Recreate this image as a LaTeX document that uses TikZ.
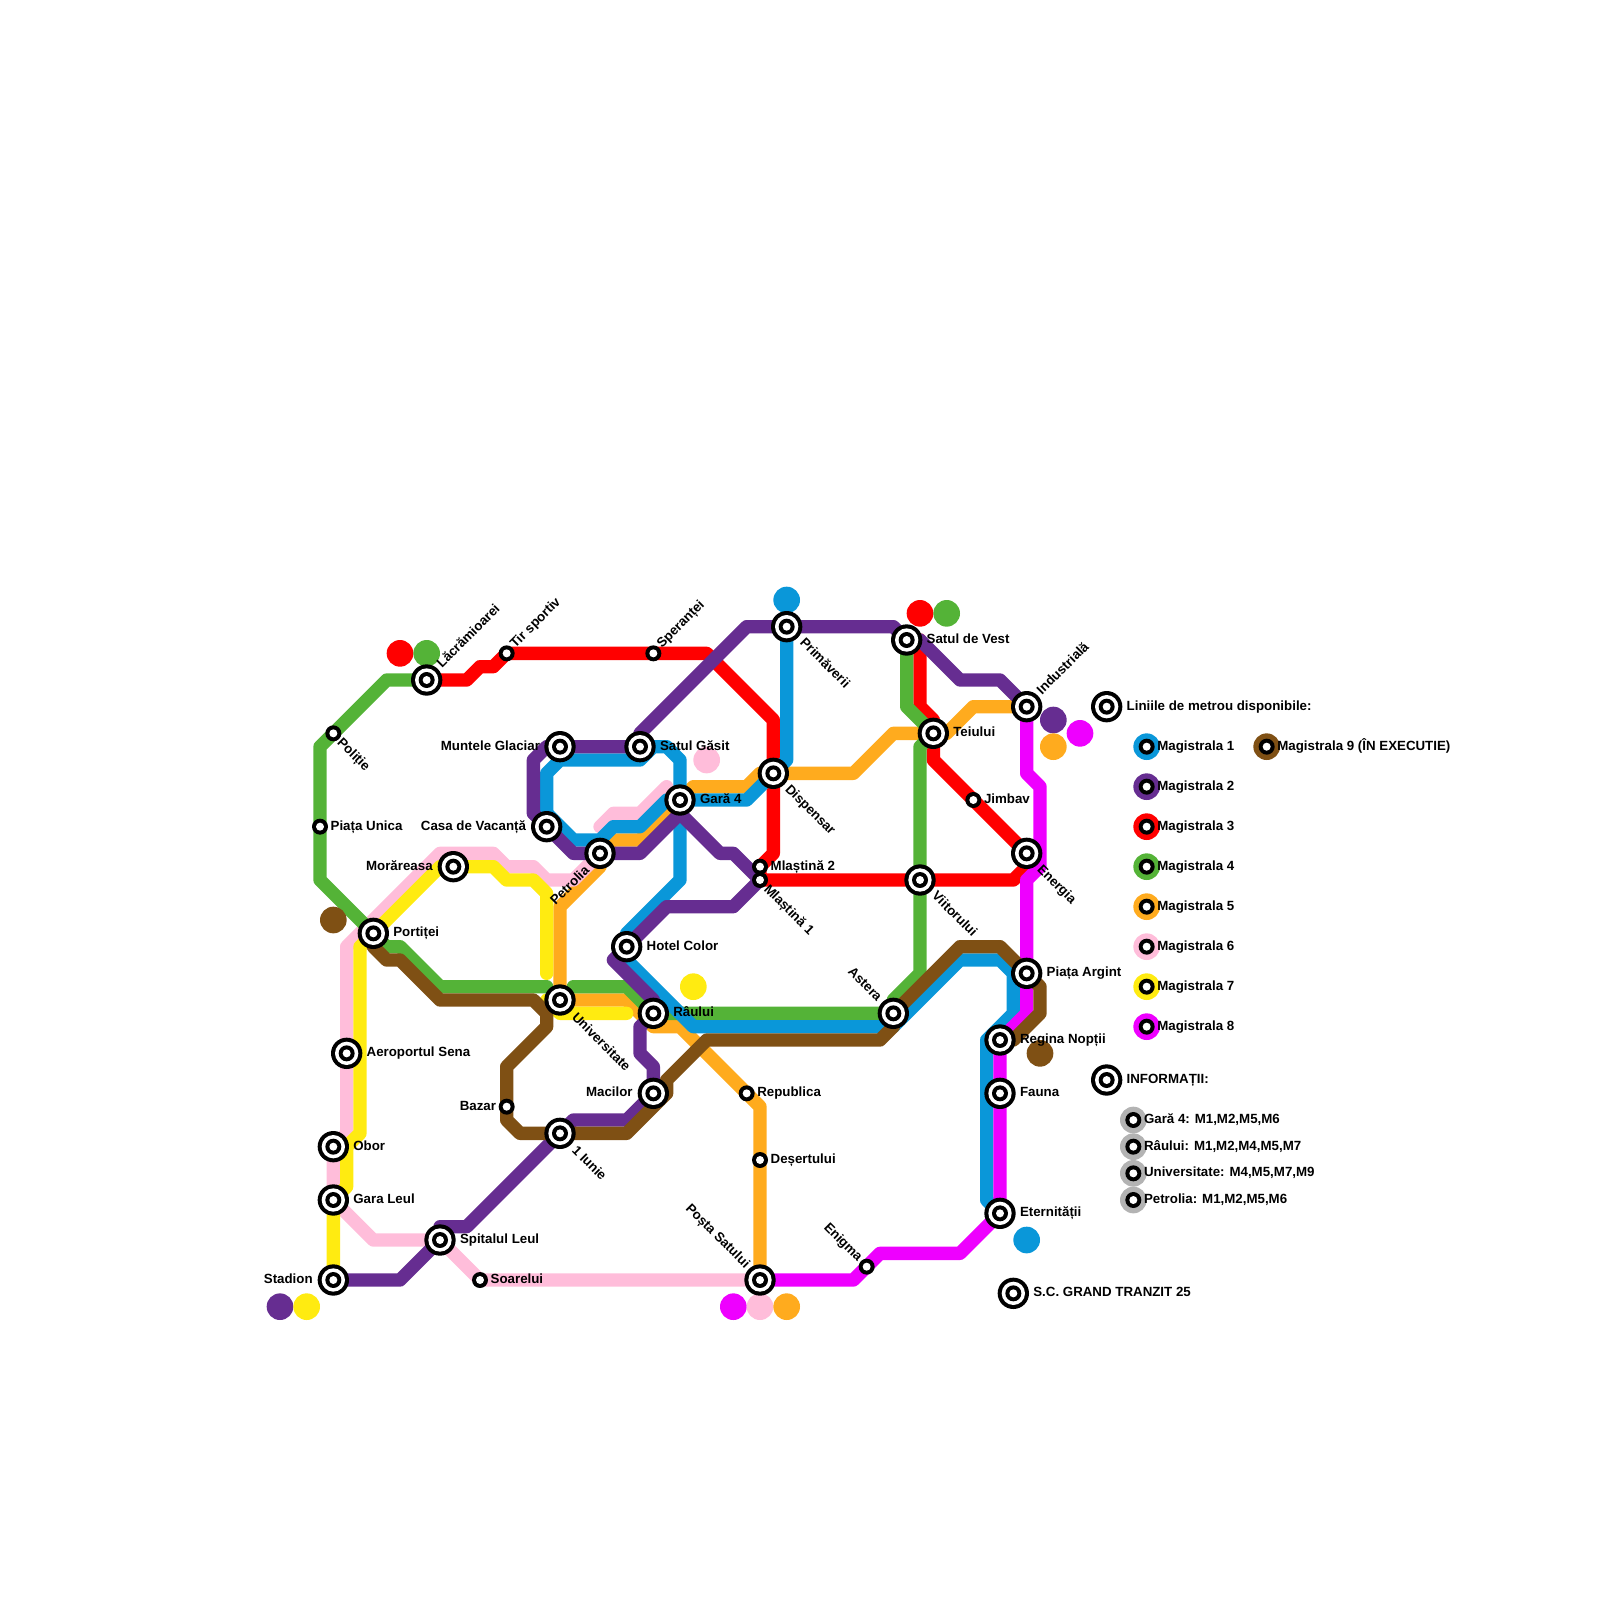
\documentclass[tikz,border=0pt]{standalone}
\usepackage{fontspec}
\setmainfont{Liberation Sans}[BoldFont={Liberation Sans Bold}]
\usetikzlibrary{calc}
\definecolor{mblue}{HTML}{0A97D9}
\definecolor{mpurple}{HTML}{662D91}
\definecolor{mred}{HTML}{FF0000}
\definecolor{mgreen}{HTML}{54B337}
\definecolor{morange}{HTML}{FFAB1E}
\definecolor{mpink}{HTML}{FFBDDA}
\definecolor{myellow}{HTML}{FFEB11}
\definecolor{mmagenta}{HTML}{EE00FF}
\definecolor{mbrown}{HTML}{7F5014}
\definecolor{mgray}{HTML}{B3B3B3}
\pgfdeclarelayer{lines}
\pgfsetlayers{lines,main}
\tikzset{
  mline/.style={line width=0.5cm,line cap=round,line join=round},
  inter/.style={circle,fill=black,inner sep=0pt,outer sep=0pt,minimum size=1.175cm,
    path picture={
      \fill[white] (path picture bounding box.center) circle [radius=0.4375cm];
      \fill[black] (path picture bounding box.center) circle [radius=0.3cm];
      \fill[white] (path picture bounding box.center) circle [radius=0.15cm];}},
  halt/.style={circle,fill=black,inner sep=0pt,outer sep=0pt,minimum size=0.6cm,
    path picture={\fill[white] (path picture bounding box.center) circle [radius=0.15cm];}},
  bub/.style={circle,inner sep=0pt,outer sep=0pt,minimum size=1cm},
  lbl/.style={inner sep=0pt,outer sep=0pt,text height=0.355cm,text depth=0pt,
    font=\bfseries\fontsize{14.2}{17}\selectfont,text=black},
  tr/.style={lbl,anchor=west},
  tl/.style={lbl,anchor=east},
  up/.style={lbl,anchor=west,rotate=45},
  dn/.style={lbl,anchor=west,rotate=-45},
  ba/.style={lbl,anchor=east,rotate=-45},
  pe/.style={lbl,anchor=east,rotate=45},
}
\begin{document}
\begin{tikzpicture}[x=0.5cm,y=-0.5cm]
\useasboundingbox (0,0) rectangle (120,120);
% terminus bubbles
\node[bub,fill=mred] (b1) at (30,49) {};
\node[bub,fill=mgreen] (b2) at (32,49) {};
\node[bub,fill=mbrown] (b3) at (25,69) {};
\node[bub,fill=mpink] (b4) at (53,57) {};
\node[bub,fill=mblue] (b5) at (59,45) {};
\node[bub,fill=mred] (b6) at (69,46) {};
\node[bub,fill=mgreen] (b7) at (71,46) {};
\node[bub,fill=mpurple] (b8) at (79,54) {};
\node[bub,fill=mmagenta] (b9) at (81,55) {};
\node[bub,fill=morange] (b10) at (79,56) {};
\node[bub,fill=myellow] (b11) at (52,74) {};
\node[bub,fill=mpurple] (b12) at (21,98) {};
\node[bub,fill=myellow] (b13) at (23,98) {};
\node[bub,fill=mmagenta] (b14) at (55,98) {};
\node[bub,fill=mpink] (b15) at (57,98) {};
\node[bub,fill=morange] (b16) at (59,98) {};
\node[bub,fill=mbrown] (b17) at (78,79) {};
\node[bub,fill=mblue] (b18) at (77,93) {};
% legend discs
\node[bub,fill=mblue] (d1) at (86,56) {};
\node[bub,fill=mpurple] (d2) at (86,59) {};
\node[bub,fill=mred] (d3) at (86,62) {};
\node[bub,fill=mgreen] (d4) at (86,65) {};
\node[bub,fill=morange] (d5) at (86,68) {};
\node[bub,fill=mpink] (d6) at (86,71) {};
\node[bub,fill=myellow] (d7) at (86,74) {};
\node[bub,fill=mmagenta] (d8) at (86,77) {};
\node[bub,fill=mbrown] (d9) at (95,56) {};
\node[bub,fill=mgray] (g1) at (85,84) {};
\node[bub,fill=mgray] (g2) at (85,86) {};
\node[bub,fill=mgray] (g3) at (85,88) {};
\node[bub,fill=mgray] (g4) at (85,90) {};
% stations
\node[inter] (lacr) at (32,51) {};
\node[halt] (tir) at (38,49) {};
\node[halt] (sper) at (49,49) {};
\node[halt] (poli) at (25,55) {};
\node[halt] (unica) at (24,62) {};
\node[inter] (munt) at (42,56) {};
\node[inter] (gasit) at (48,56) {};
\node[inter] (casa) at (41,62) {};
\node[inter] (petr) at (45,64) {};
\node[inter] (gara) at (51,60) {};
\node[inter] (mora) at (34,65) {};
\node[inter] (port) at (28,70) {};
\node[inter] (hotel) at (47,71) {};
\node[inter] (univ) at (42,75) {};
\node[inter] (raul) at (49,76) {};
\node[inter] (prim) at (59,47) {};
\node[inter] (vest) at (68,48) {};
\node[inter] (indu) at (77,53) {};
\node[inter] (teiu) at (70,55) {};
\node[inter] (disp) at (58,58) {};
\node[halt] (jimb) at (73,60) {};
\node[inter] (ener) at (77,64) {};
\node[halt] (mla) at (57,65) {};
\node[halt] (mlb) at (57,66) {};
\node[inter] (viit) at (69,66) {};
\node[inter] (argi) at (77,73) {};
\node[inter] (aste) at (67,76) {};
\node[inter] (aero) at (26,79) {};
\node[inter] (obor) at (25,86) {};
\node[inter] (leul) at (25,90) {};
\node[inter] (stad) at (25,96) {};
\node[inter] (spit) at (33,93) {};
\node[halt] (soar) at (36,96) {};
\node[halt] (baza) at (38,83) {};
\node[inter] (iuni) at (42,85) {};
\node[inter] (maci) at (49,82) {};
\node[halt] (repu) at (56,82) {};
\node[halt] (dese) at (57,87) {};
\node[inter] (post) at (57,96) {};
\node[halt] (enig) at (65,95) {};
\node[inter] (regi) at (75,78) {};
\node[inter] (faun) at (75,82) {};
\node[inter] (eter) at (75,91) {};
\node[inter] (gran) at (76,97) {};
\node[inter] (leg) at (83,53) {};
\node[inter] (inf) at (83,81) {};
\node[halt] (l1) at (86,56) {};
\node[halt] (l2) at (86,59) {};
\node[halt] (l3) at (86,62) {};
\node[halt] (l4) at (86,65) {};
\node[halt] (l5) at (86,68) {};
\node[halt] (l6) at (86,71) {};
\node[halt] (l7) at (86,74) {};
\node[halt] (l8) at (86,77) {};
\node[halt] (l9) at (95,56) {};
\node[halt] (i1) at (85,84) {};
\node[halt] (i2) at (85,86) {};
\node[halt] (i3) at (85,88) {};
\node[halt] (i4) at (85,90) {};
% lines
\begin{pgfonlayer}{lines}
% M5 orange
\draw[mline,morange] (post.center) -- (57,83) -- (repu.center) -- (51,77) -- (49,77) -- (47,75) -- (univ.center) -- (42,68) -- (45,65) -- (petr.center) -- (46,63) -- (48,63) -- (gara.center) -- (52,59) -- (56,59) -- (57,58) -- (disp.center) -- (64,58) -- (67,55) -- (teiu.center) -- (71,55) -- (73,53) -- (indu.center);
% M6 pink
\draw[mline,mpink] (post.center) -- (soar.center) -- (spit.center) -- (28,93) -- (leul.center) -- (obor.center) -- (26,85) -- (aero.center) -- (26,71) -- (33,64) -- (37,64) -- (38,65) -- (40,65) -- (41,66) -- (43,66) -- (petr.center);
\draw[mline,mpink] (45,62) -- (46,61) -- (48,61) -- (50,59);
% M7 yellow
\draw[mline,myellow] (stad.center) -- (leul.center) -- (26,89) -- (26,86) -- (27,85) -- (27,71) -- (port.center) -- (33,65) -- (mora.center) -- (37,65) -- (38,66) -- (40,66) -- (41,67) -- (41,73);
\draw[mline,myellow] (univ.center) -- (41,75) -- (42,76) -- (47,76);
% M3 red
\draw[mline,mred] (lacr.center) -- (35,51) -- (36,50) -- (37,50) -- (tir.center) -- (sper.center) -- (53,49) -- (58,54) -- (disp.center) -- (58,64) -- (mla.center) -- (mlb.center) -- (viit.center) -- (76,66) -- (77,65) -- (ener.center) -- (jimb.center) -- (70,57) -- (teiu.center) -- (70,54) -- (69,53) -- (69,48) -- (vest.center);
% M4 green
\draw[mline,mgreen] (lacr.center) -- (29,51) -- (24,56) -- (unica.center) -- (24,66) -- (port.center) -- (29,71) -- (30,71) -- (33,74) -- (41,74);
\draw[mline,mgreen] (43,74) -- (47,74) -- (raul.center) -- (aste.center) -- (67,75) -- (69,73) -- (viit.center) -- (69,56) -- (teiu.center) -- (68,53) -- (vest.center);
% M1 blue
\draw[mline,mblue] (prim.center) -- (59,57) -- (disp.center) -- (56,60) -- (gara.center) -- (50,60) -- (48,62) -- (46,62) -- (45,63) -- (43,63) -- (41,61) -- (casa.center);
\draw[mline,mblue] (41,61) -- (41,58) -- (42,57) -- (48,57) -- (49,56) -- (50,56) -- (51,57) -- (gara.center) -- (51,66) -- (47,70) -- (hotel.center) -- (47,72) -- (52,77) -- (67,77) -- (72,72) -- (75,72) -- (76,73) -- (76,76) -- (74,78) -- (74,90) -- (eter.center);
% M2 purple
\draw[mpurple,mline] (stad.center) -- (30,96) -- (spit.center) -- (33,92) -- (35,92) -- (iuni.center) -- (43,84) -- (47,84) -- (maci.center) -- (49,80) -- (48,79) -- (48,77) -- (raul.center) -- (49,75) -- (46,72) -- (hotel.center) -- (50,68) -- (55,68) -- (mlb.center) -- (55,64) -- (54,64) -- (51,61) -- (gara.center) -- (51,61) -- (48,64) -- (petr.center) -- (43,64) -- (casa.center) -- (40,61) -- (40,57) -- (41,56) -- (munt.center) -- (gasit.center) -- (48,55) -- (56,47) -- (prim.center) -- (67,47) -- (vest.center) -- (69,48) -- (72,51) -- (75,51) -- (indu.center);
% M8 magenta
\draw[mline,mmagenta] (indu.center) -- (77,58) -- (78,59) -- (78,65) -- (77,66) -- (argi.center) -- (77,76) -- (regi.center) -- (faun.center) -- (eter.center) -- (72,94) -- (66,94) -- (enig.center) -- (64,96) -- (post.center);
% M9 brown
\draw[mline,mbrown] (port.center) -- (28,71) -- (29,72) -- (30,72) -- (33,75) -- (40,75) -- (41,76) -- (41,77) -- (38,80) -- (baza.center) -- (38,84) -- (39,85) -- (iuni.center) -- (47,85) -- (50,82) -- (50,81) -- (53,78) -- (66,78) -- (67,77) -- (aste.center) -- (72,71) -- (75,71) -- (argi.center) -- (78,74) -- (78,76) -- (76,78) -- (regi.center);
\end{pgfonlayer}
% labels
\node[up] at ($(lacr)+(0.9,-1.1)$) {Lăcrămioarei};
\node[up] at ($(tir)+(0.4,-0.6)$) {Tir sportiv};
\node[up] at ($(sper)+(0.4,-0.6)$) {Speranței};
\node[up] at ($(indu)+(0.9,-1.1)$) {Industrială};
\node[dn] at ($(poli)+(0.5,0.5)$) {Poliție};
\node[dn] at ($(prim)+(1.2,1)$) {Primăverii};
\node[dn] at ($(disp)+(1.1,1)$) {Dispensar};
\node[dn] at ($(viit)+(1.1,1)$) {Viitorului};
\node[dn] at ($(mlb)+(0.5,0.5)$) {Mlaștină 1};
\node[dn] at ($(ener)+(1,1)$) {Energia};
\node[dn] at ($(iuni)+(1.1,1.1)$) {1 Iunie};
\node[dn] at ($(univ)+(1.1,1.1)$) {Universitate};
\node[ba] at ($(aste)+(-1,-1.1)$) {Astera};
\node[ba] at ($(post)+(-0.9,-1.1)$) {Poșta Satului};
\node[ba] at ($(enig)+(-0.45,-0.6)$) {Enigma};
\node[pe] at ($(petr)+(-1,1.1)$) {Petrolia};
\node[tr] at ($(unica)+(0.8,-0.1)$) {Piața Unica};
\node[tr] at ($(jimb)+(0.8,-0.1)$) {Jimbav};
\node[tr] at ($(mla)+(0.8,-0.1)$) {Mlaștină 2};
\node[tr] at ($(soar)+(0.8,-0.1)$) {Soarelui};
\node[tr] at ($(repu)+(0.8,-0.1)$) {Republica};
\node[tr] at ($(dese)+(0.8,-0.1)$) {Deșertului};
\node[tr] at ($(port)+(1.5,-0.1)$) {Portiței};
\node[tr] at ($(gasit)+(1.5,-0.1)$) {Satul Găsit};
\node[tr] at ($(gara)+(1.5,-0.1)$) {Gară 4};
\node[tr] at ($(hotel)+(1.5,-0.1)$) {Hotel Color};
\node[tr] at ($(raul)+(1.5,-0.1)$) {Râului};
\node[tr] at ($(vest)+(1.5,-0.1)$) {Satul de Vest};
\node[tr] at ($(teiu)+(1.5,-0.1)$) {Teiului};
\node[tr] at ($(argi)+(1.5,-0.1)$) {Piața Argint};
\node[tr] at ($(regi)+(1.5,-0.1)$) {Regina Nopții};
\node[tr] at ($(faun)+(1.5,-0.1)$) {Fauna};
\node[tr] at ($(eter)+(1.5,-0.1)$) {Eternității};
\node[tr] at ($(aero)+(1.5,-0.1)$) {Aeroportul Sena};
\node[tr] at ($(obor)+(1.5,-0.1)$) {Obor};
\node[tr] at ($(leul)+(1.5,-0.1)$) {Gara Leul};
\node[tr] at ($(spit)+(1.5,-0.1)$) {Spitalul Leul};
\node[tr] at ($(gran)+(1.5,-0.1)$) {S.C. GRAND TRANZIT 25};
\node[tl] at ($(munt)+(-1.5,-0.1)$) {Muntele Glaciar};
\node[tl] at ($(casa)+(-1.55,-0.1)$) {Casa de Vacanță};
\node[tl] at ($(mora)+(-1.55,-0.1)$) {Morăreasa};
\node[tl] at ($(stad)+(-1.55,-0.1)$) {Stadion};
\node[tl] at ($(maci)+(-1.55,-0.1)$) {Macilor};
\node[tl] at ($(baza)+(-0.8,-0.1)$) {Bazar};
\node[tr] at ($(leg)+(1.5,-0.1)$) {Liniile de metrou disponibile:};
\node[tr] at ($(inf)+(1.5,-0.1)$) {INFORMAȚII:};
\node[tr] at ($(l1)+(0.8,-0.1)$) {Magistrala 1};
\node[tr] at ($(l2)+(0.8,-0.1)$) {Magistrala 2};
\node[tr] at ($(l3)+(0.8,-0.1)$) {Magistrala 3};
\node[tr] at ($(l4)+(0.8,-0.1)$) {Magistrala 4};
\node[tr] at ($(l5)+(0.8,-0.1)$) {Magistrala 5};
\node[tr] at ($(l6)+(0.8,-0.1)$) {Magistrala 6};
\node[tr] at ($(l7)+(0.8,-0.1)$) {Magistrala 7};
\node[tr] at ($(l8)+(0.8,-0.1)$) {Magistrala 8};
\node[tr] at ($(l9)+(0.8,-0.1)$) {Magistrala 9 (ÎN EXECUTIE)};
\node[tr] at ($(i1)+(0.8,-0.1)$) {Gară 4: M1,M2,M5,M6};
\node[tr] at ($(i2)+(0.8,-0.1)$) {Râului: M1,M2,M4,M5,M7};
\node[tr] at ($(i3)+(0.8,-0.1)$) {Universitate: M4,M5,M7,M9};
\node[tr] at ($(i4)+(0.8,-0.1)$) {Petrolia: M1,M2,M5,M6};
\end{tikzpicture}
\end{document}
